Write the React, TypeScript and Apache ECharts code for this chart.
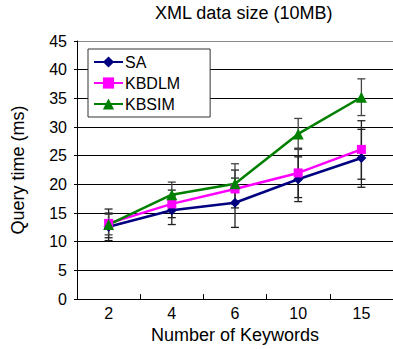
import React, { useEffect, useRef } from "react";
import * as echarts from "echarts";

const categories = ["2", "4", "6", "10", "15"];
const saValues = [12.6, 15.5, 16.8, 20.9, 24.6];
const kbdlmValues = [13.2, 16.6, 19.2, 22.0, 26.1];
const kbsimValues = [13.0, 18.2, 20.1, 28.8, 35.2];
const saErr = [
  [10.2, 15.0],
  [13.0, 18.0],
  [12.5, 21.1],
  [17.0, 24.8],
  [19.5, 29.6],
];
const kbdlmErr = [
  [10.7, 15.7],
  [14.2, 19.0],
  [15.9, 22.5],
  [17.7, 26.3],
  [20.9, 31.1],
];
const kbsimErr = [
  [11.2, 14.8],
  [15.7, 20.4],
  [16.6, 23.6],
  [26.1, 31.5],
  [32.0, 38.4],
];
const yTicks = { min: 0, max: 45, interval: 5 };

const FONT = '"Liberation Sans", Arial, sans-serif';

function errSeries(name: string, errs: number[][], color: string) {
  return {
    type: "custom",
    name: name + "_err",
    z: 1,
    silent: true,
    data: errs.map((e, i) => [i, e[0], e[1]]),
    renderItem: (params: any, api: any) => {
      const lo = api.coord([api.value(0), api.value(1)]);
      const hi = api.coord([api.value(0), api.value(2)]);
      const w = 4;
      const style = { stroke: color, lineWidth: 1.3 };
      return {
        type: "group",
        children: [
          { type: "line", shape: { x1: lo[0], y1: lo[1], x2: hi[0], y2: hi[1] }, style },
          { type: "line", shape: { x1: lo[0] - w, y1: lo[1], x2: lo[0] + w, y2: lo[1] }, style },
          { type: "line", shape: { x1: hi[0] - w, y1: hi[1], x2: hi[0] + w, y2: hi[1] }, style },
        ],
      };
    },
  };
}

export default function App() {
  const ref = useRef<HTMLDivElement>(null);
  useEffect(() => {
    if (!ref.current) return;
    const chart = echarts.init(ref.current, undefined, { renderer: "svg" });
    chart.setOption({
      animation: false,
      textStyle: { fontFamily: FONT },
      title: {
        text: "XML data size (10MB)",
        left: 155,
        top: 4,
        padding: 0,
        textStyle: { fontFamily: FONT, fontSize: 18, fontWeight: "normal", color: "#000" },
      },
      legend: {
        orient: "vertical",
        left: 88,
        top: 49,
        width: 94,
        padding: [5, 30, 5, 5],
        itemGap: 5,
        itemWidth: 29,
        itemHeight: 14,
        backgroundColor: "#fff",
        borderColor: "#333",
        borderWidth: 1,
        borderRadius: 0,
        data: ["SA", "KBDLM", "KBSIM"],
        textStyle: { fontFamily: FONT, fontSize: 16, color: "#000", padding: [0, 0, 0, -3] },
      },
      grid: { left: 77, top: 41, width: 320, height: 261, containLabel: false },
      xAxis: {
        type: "category",
        data: categories,
        boundaryGap: true,
        name: "Number of Keywords",
        nameLocation: "middle",
        nameGap: 22,
        nameTextStyle: { fontFamily: FONT, fontSize: 18, color: "#000" },
        axisLine: { lineStyle: { color: "#000", width: 1 } },
        axisTick: { show: true, inside: true, length: 5, alignWithLabel: false, interval: 0, lineStyle: { color: "#000" } },
        axisLabel: { fontFamily: FONT, fontSize: 16, color: "#000", margin: 6, interval: 0 },
        splitLine: { show: false },
      },
      yAxis: {
        type: "value",
        min: yTicks.min,
        max: yTicks.max,
        interval: yTicks.interval,
        name: "Query time (ms)",
        nameLocation: "middle",
        nameGap: 50,
        nameTextStyle: { fontFamily: FONT, fontSize: 18, color: "#000" },
        axisLine: { show: true, lineStyle: { color: "#000", width: 1 } },
        axisTick: { show: true, length: 3, lineStyle: { color: "#000" } },
        axisLabel: { fontFamily: FONT, fontSize: 16, color: "#000", margin: 10 },
        splitLine: {
          show: true,
          lineStyle: {
            color: ["#000", "#000", "#000", "#000", "#000", "#000", "#000", "#000", "#000", "#888"],
            width: 1,
          },
        },
      },
      series: [
        errSeries("SA", saErr, "#222"),
        errSeries("KBDLM", kbdlmErr, "#222"),
        errSeries("KBSIM", kbsimErr, "#444"),
        {
          type: "line",
          name: "SA",
          data: saValues,
          z: 3,
          symbol: "diamond",
          symbolSize: 10,
          lineStyle: { color: "#000080", width: 2.5 },
          itemStyle: { color: "#000080" },
        },
        {
          type: "line",
          name: "KBDLM",
          data: kbdlmValues,
          z: 3,
          symbol: "rect",
          symbolSize: 9,
          lineStyle: { color: "#ff00ff", width: 2.5 },
          itemStyle: { color: "#ff00ff" },
        },
        {
          type: "line",
          name: "KBSIM",
          data: kbsimValues,
          z: 3,
          symbol: "triangle",
          symbolSize: 11,
          lineStyle: { color: "#008000", width: 2.5 },
          itemStyle: { color: "#008000" },
        },
      ],
    });
    return () => chart.dispose();
  }, []);
  return (
    <div
      ref={ref}
      style={{ position: "fixed", left: 0, top: 0, width: 393, height: 349, background: "#fff" }}
    />
  );
}
